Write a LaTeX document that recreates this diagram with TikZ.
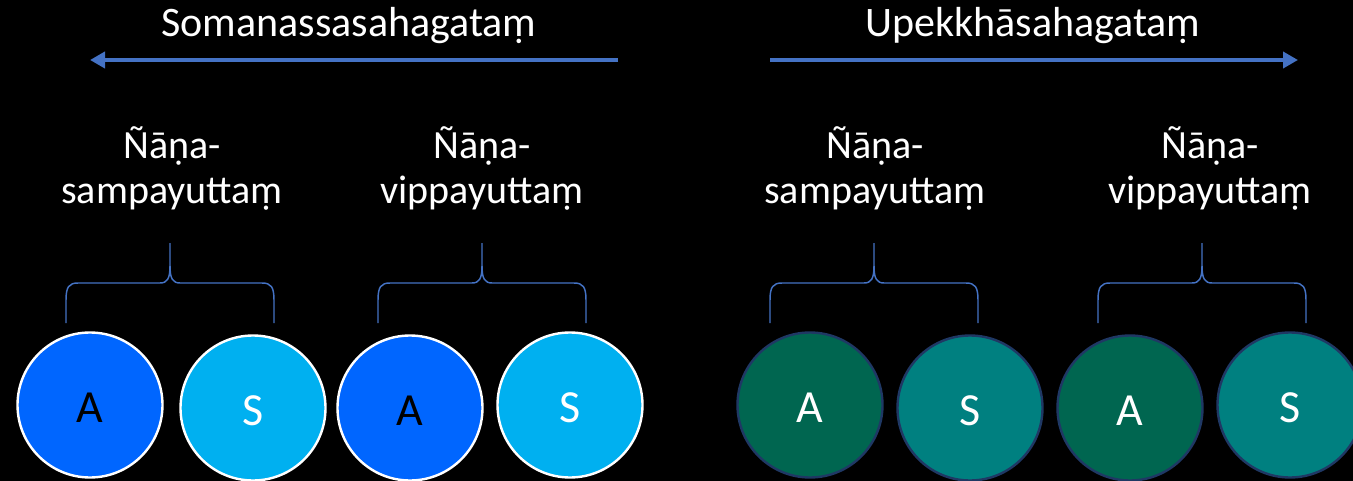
\documentclass[tikz,border=0pt]{standalone}
\usepackage{fontspec}
\setmainfont{Carlito}
\usetikzlibrary{arrows.meta}

\definecolor{accentblue}{HTML}{4472C4}
\definecolor{vividblue}{HTML}{0066FF}
\definecolor{skyblue}{HTML}{00B0F0}
\definecolor{deepgreen}{HTML}{006650}
\definecolor{tealgreen}{HTML}{008080}
\definecolor{navyrim}{HTML}{1F3864}

% one curly brace opening downwards: left end, tip, right end (x in px)
\newcommand\curlybrace[3]{%
  \draw[bracestyle] (#1,323) -- (#1,300)
     .. controls (#1,287) and (#1+3,283) .. (#1+12,283)
     -- (#2-10,283) .. controls (#2-3,283) and (#2,279) .. (#2,266)
     -- (#2,243);
  \draw[bracestyle] (#2,266) .. controls (#2,279) and (#2+3,283) .. (#2+10,283)
     -- (#3-12,283) .. controls (#3-3,283) and (#3,287) .. (#3,300)
     -- (#3,323);
}

\begin{document}
\begin{tikzpicture}[x=0.75pt,y=-0.75pt,
  heading/.style={text=white,font=\fontsize{31.5}{36}\selectfont,inner sep=0pt,anchor=base},
  kind/.style={text=white,font=\fontsize{30}{33.75}\selectfont,align=center,inner sep=0pt,anchor=base},
  arrowline/.style={accentblue,line width=3pt,-{Triangle[length=11.25pt,width=12pt]}},
  bracestyle/.style={accentblue,line width=1.1pt},
  ball/.style={circle,minimum size=108.75pt,inner sep=0pt,line width=1.8pt,
    font=\fontsize{34.5}{40}\selectfont,text height=25.5pt,text depth=0pt},
  blueA/.style={ball,draw=white,fill=vividblue,text=black},
  blueS/.style={ball,draw=white,fill=skyblue,text=white},
  greenA/.style={ball,draw=navyrim,fill=deepgreen,text=white},
  greenS/.style={ball,draw=navyrim,fill=tealgreen,text=white}]

\clip (0,0) rectangle (1353,481);
\fill[black] (0,0) rectangle (1353,481);

% headings and direction arrows
\node[heading] (somanassa) at (349,37) {Somanassasahagataṃ};
\node[heading] (upekkha) at (1033,37) {Upekkhāsahagataṃ};
\coordinate (leftfrom) at (618,60);
\coordinate (leftto) at (90,60);
\coordinate (rightfrom) at (770,60);
\coordinate (rightto) at (1298,60);
\draw[arrowline] (leftfrom) -- (leftto);
\draw[arrowline] (rightfrom) -- (rightto);

% group labels (base = baseline of the second line)
\node[kind] (k1) at (172,204) {Ñāṇa-\\sampayuttaṃ};
\node[kind] (k2) at (482,204) {Ñāṇa-\\vippayuttaṃ};
\node[kind] (k3) at (875,204) {Ñāṇa-\\sampayuttaṃ};
\node[kind] (k4) at (1210,204) {Ñāṇa-\\vippayuttaṃ};

% braces
\curlybrace{66}{170}{274}
\curlybrace{378}{482}{586}
\curlybrace{770}{874}{978}
\curlybrace{1098}{1202}{1306}

% asaṅkhārika / sasaṅkhārika circles
\node[blueA] (b1) at (90,405) {A};
\node[blueS] (b2) at (253,408) {S};
\node[blueA] (b3) at (410,408) {A};
\node[blueS] (b4) at (570,405) {S};
\node[greenA] (g1) at (810,405) {A};
\node[greenS] (g2) at (970,408) {S};
\node[greenA] (g3) at (1130,408) {A};
\node[greenS] (g4) at (1290,405) {S};
\end{tikzpicture}
\end{document}
